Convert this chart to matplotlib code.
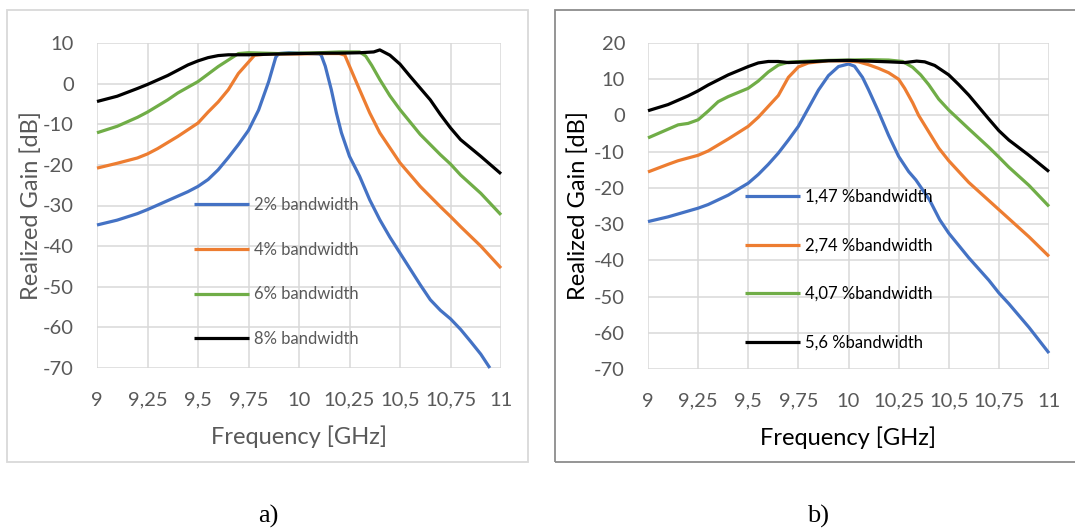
import matplotlib.pyplot as plt
from matplotlib.patches import Rectangle

W, H = 1075, 530

# left chart: a)
a_labels = ["2% bandwidth", "4% bandwidth", "6% bandwidth", "8% bandwidth"]
a_f1 = [9.0, 9.1, 9.2, 9.25, 9.35, 9.45, 9.5, 9.55, 9.6, 9.65, 9.7, 9.75, 9.8,
        9.85, 9.885, 9.9, 9.95, 10.0, 10.05, 10.1, 10.11, 10.13, 10.16,
        10.185, 10.21, 10.25, 10.3, 10.35, 10.4, 10.45, 10.5, 10.6, 10.65, 10.7,
        10.75, 10.8, 10.85, 10.9, 10.945]
a_g1 = [-34.8, -33.6, -32.0, -31.0, -28.8, -26.6, -25.3, -23.6, -21.2, -18.2, -15.0,
        -11.5, -6.5, 0.5, 6.5, 7.4, 7.6, 7.5, 7.4, 7.3, 7.0, 4.3, -1.5,
        -7.2, -12.1, -17.9, -22.8, -28.6, -33.5, -37.8, -41.7, -49.5, -53.2,
        -55.8, -57.9, -60.5, -63.5, -66.6, -70.0]
a_f2 = [9.0, 9.1, 9.2, 9.25, 9.3, 9.4, 9.5, 9.55, 9.6, 9.65, 9.7, 9.75, 9.78, 9.85,
        10.0, 10.1, 10.2, 10.227, 10.25, 10.3, 10.35, 10.4, 10.5, 10.6, 10.7,
        10.75, 10.8, 10.9, 11.0]
a_g2 = [-20.8, -19.6, -18.3, -17.3, -16.0, -13.0, -9.7, -7.0, -4.5, -1.5, 2.5, 5.3,
        7.0, 7.3, 7.3, 7.4, 7.4, 7.0, 4.3, -1.5, -7.2, -12.1, -19.5, -25.3,
        -30.3, -32.7, -35.2, -40.0, -45.4]
a_f3 = [9.0, 9.1, 9.2, 9.25, 9.35, 9.4, 9.5, 9.6, 9.7, 9.75, 9.9, 10.0, 10.1, 10.2,
        10.3, 10.33, 10.36, 10.4, 10.45, 10.5, 10.6, 10.7, 10.75, 10.8, 10.9, 11.0]
a_g3 = [-12.1, -10.5, -8.3, -7.0, -4.0, -2.3, 0.5, 4.2, 7.4, 7.6, 7.4, 7.5, 7.6, 7.8,
        7.8, 6.8, 4.5, 1.0, -3.0, -6.4, -12.5, -17.5, -19.8, -22.5, -27.0, -32.3]
a_f4 = [9.0, 9.1, 9.2, 9.25, 9.3, 9.35, 9.4, 9.45, 9.5, 9.55, 9.6, 9.65, 9.75, 9.9,
        10.0, 10.1, 10.2, 10.3, 10.37, 10.4, 10.45, 10.5, 10.55, 10.6, 10.65,
        10.7, 10.75, 10.8, 10.9, 11.0]
a_g4 = [-4.4, -3.1, -1.2, -0.2, 0.9, 2.0, 3.3, 4.6, 5.6, 6.4, 6.9, 7.1, 7.1, 7.3,
        7.4, 7.5, 7.5, 7.6, 7.8, 8.3, 7.0, 4.8, 1.8, -1.1, -4.0, -7.6, -10.9,
        -13.8, -17.9, -22.2]

# right chart: b)
b_labels = ["1,47 %bandwidth", "2,74 %bandwidth", "4,07 %bandwidth", "5,6 %bandwidth"]
b_f1 = [9.0, 9.1, 9.2, 9.25, 9.3, 9.4, 9.5, 9.55, 9.6, 9.65, 9.7, 9.75, 9.8, 9.85,
        9.9, 9.95, 10.0, 10.03, 10.07, 10.1, 10.15, 10.2, 10.25, 10.3, 10.336,
        10.404, 10.455, 10.5, 10.6, 10.7, 10.75, 10.8, 10.9, 11.0]
b_g1 = [-29.3, -28.0, -26.4, -25.6, -24.6, -22.0, -18.7, -16.3, -13.5, -10.4, -6.8,
        -3.0, 2.0, 7.0, 11.0, 13.5, 14.2, 13.6, 10.5, 7.1, 1.0, -5.5, -11.3,
        -15.5, -17.8, -23.3, -28.8, -32.5, -39.3, -45.5, -49.0, -52.0, -58.5,
        -65.6]
b_f2 = [9.0, 9.1, 9.15, 9.25, 9.3, 9.4, 9.5, 9.55, 9.6, 9.65, 9.7, 9.75, 9.8, 9.9,
        10.0, 10.05, 10.1, 10.15, 10.2, 10.25, 10.28, 10.32, 10.35, 10.4, 10.45,
        10.5, 10.6, 10.7, 10.75, 10.8, 10.9, 11.0]
b_g2 = [-15.6, -13.5, -12.5, -11.0, -9.8, -6.5, -3.0, -0.5, 2.5, 5.5, 10.5, 13.4,
        14.5, 15.1, 15.0, 14.8, 14.0, 13.0, 11.8, 10.0, 7.5, 3.5, 0.0, -4.5, -9.0,
        -12.5, -18.5, -23.5, -26.0, -28.5, -33.5, -38.9]
b_f3 = [9.0, 9.1, 9.15, 9.2, 9.25, 9.3, 9.35, 9.4, 9.5, 9.55, 9.6, 9.65, 9.7, 9.8,
        9.9, 10.0, 10.1, 10.2, 10.27, 10.32, 10.36, 10.4, 10.45, 10.5, 10.6, 10.7,
        10.75, 10.8, 10.9, 11.0]
b_g3 = [-6.2, -3.8, -2.6, -2.2, -1.2, 1.2, 3.8, 5.2, 7.5, 9.5, 12.0, 13.9, 14.7,
        15.0, 15.2, 15.3, 15.4, 15.3, 14.9, 13.3, 11.2, 8.5, 4.5, 1.5, -3.7, -8.8,
        -11.5, -14.3, -19.3, -25.1]
b_f4 = [9.0, 9.1, 9.2, 9.25, 9.3, 9.4, 9.5, 9.55, 9.6, 9.65, 9.7, 9.8, 9.9, 10.0,
        10.1, 10.2, 10.28, 10.34, 10.38, 10.43, 10.5, 10.55, 10.6, 10.65, 10.7,
        10.75, 10.8, 10.9, 11.0]
b_g4 = [1.3, 3.0, 5.4, 6.8, 8.4, 11.2, 13.5, 14.5, 14.9, 14.9, 14.6, 14.8, 15.1,
        15.2, 15.0, 14.8, 14.6, 15.0, 14.8, 13.8, 11.2, 8.5, 5.6, 2.3, -1.0,
        -4.2, -6.8, -11.0, -15.5]

x_ticks = [9, 9.25, 9.5, 9.75, 10, 10.25, 10.5, 10.75, 11]
x_tick_labels = ["9", "9,25", "9,5", "9,75", "10", "10,25", "10,5", "10,75", "11"]

colors = ["#4472C4", "#ED7D31", "#70AD47", "#000000"]
gray = "#595959"

plt.rcParams['font.family'] = ['Lato', 'DejaVu Sans']

fig = plt.figure(figsize=(W / 100, H / 100), dpi=100)


def px_axes(x0, y0, x1, y1):
    return fig.add_axes([x0 / W, 1 - y1 / H, (x1 - x0) / W, (y1 - y0) / H])


def frame(x0, y0, x1, y1, color):
    fig.add_artist(Rectangle((x0 / W, 1 - y1 / H), (x1 - x0) / W, (y1 - y0) / H,
                             transform=fig.transFigure, fill=False,
                             edgecolor=color, linewidth=1.3))


def setup(ax, ylim, yticks, label_color, ylabelpad):
    ax.set_xlim(9, 11)
    ax.set_ylim(*ylim)
    ax.set_xticks(x_ticks)
    ax.set_xticklabels(x_tick_labels)
    ax.set_yticks(yticks)
    ax.set_yticklabels([str(v) for v in yticks])
    for s in ax.spines.values():
        s.set_visible(False)
    ax.grid(True, color="#d9d9d9", linewidth=1.1)
    ax.set_axisbelow(True)
    ax.tick_params(length=0, labelsize=14.5, labelcolor=gray)
    ax.tick_params(axis='y', pad=16.5)
    ax.tick_params(axis='x', pad=17)
    ax.set_xlabel("Frequency [GHz]", fontsize=17, color=label_color, labelpad=12)
    ax.set_ylabel("Realized Gain [dB]", fontsize=17, color=label_color,
                  labelpad=ylabelpad)


frame(7, 10, 528, 462, "#d9d9d9")
frame(555, 10, 1080, 462, "#8c8c8c")

ax1 = px_axes(97, 43, 501, 368)
setup(ax1, (-70, 10), list(range(10, -71, -10)), gray, 0.5)
for f, g, c, lab in zip([a_f1, a_f2, a_f3, a_f4], [a_g1, a_g2, a_g3, a_g4],
                        colors, a_labels):
    ax1.plot(f, g, color=c, linewidth=2.3, label=lab, solid_capstyle='butt',
             clip_on=False)
leg1 = ax1.legend(loc='upper left', bbox_to_anchor=(194 / W, 1 - 197 / H),
                  bbox_transform=fig.transFigure, frameon=False, fontsize=12,
                  handlelength=3.3, handletextpad=0.3, labelspacing=1.72,
                  borderpad=0, borderaxespad=0)
for t in leg1.get_texts():
    t.set_color(gray)

ax2 = px_axes(648, 43, 1049, 369)
setup(ax2, (-70, 20), list(range(20, -71, -10)), "#000000", 3.5)
for f, g, c, lab in zip([b_f1, b_f2, b_f3, b_f4], [b_g1, b_g2, b_g3, b_g4],
                        colors, b_labels):
    ax2.plot(f, g, color=c, linewidth=2.3, label=lab, solid_capstyle='butt',
             clip_on=False)
leg2 = ax2.legend(loc='upper left', bbox_to_anchor=(745 / W, 1 - 189 / H),
                  bbox_transform=fig.transFigure, frameon=False, fontsize=12,
                  handlelength=3.3, handletextpad=0.3, labelspacing=1.95,
                  borderpad=0, borderaxespad=0)

fig.text(268 / W, 1 - 516 / H, "a)", fontsize=19, family="Liberation Serif",
         ha='center', va='center')
fig.text(818 / W, 1 - 516 / H, "b)", fontsize=19, family="Liberation Serif",
         ha='center', va='center')

fig.savefig("out.png", dpi=100)
